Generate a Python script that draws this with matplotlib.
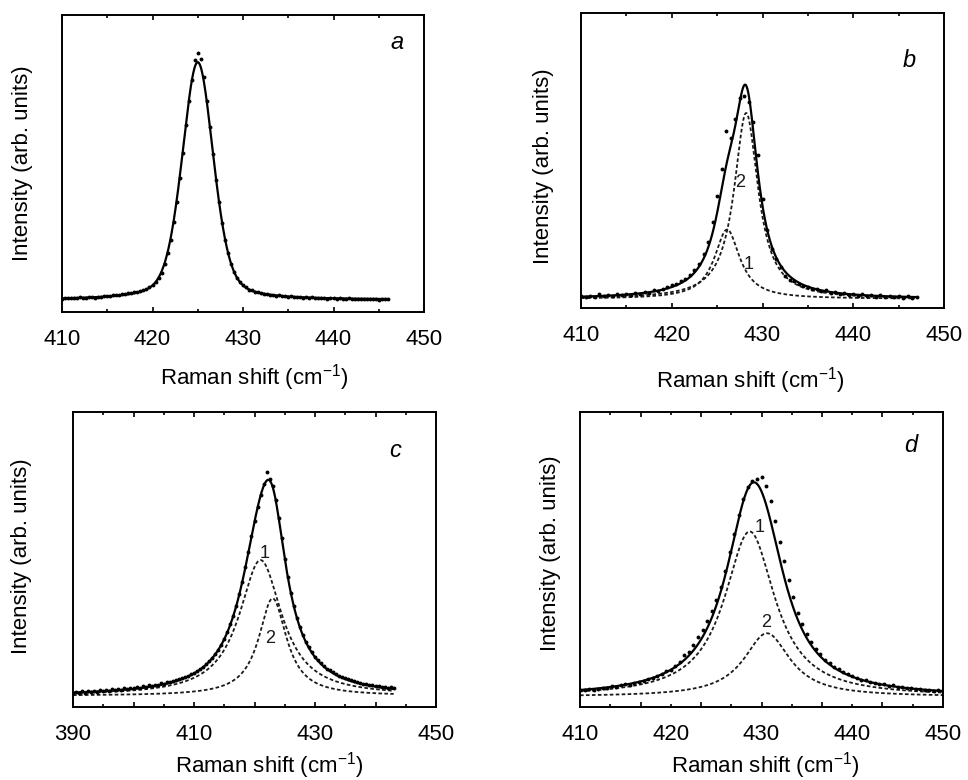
import numpy as np
import matplotlib
matplotlib.use('Agg')
import matplotlib.pyplot as plt
from matplotlib.ticker import MultipleLocator, FixedLocator, FixedFormatter, NullFormatter

plt.rcParams['font.family'] = ['Liberation Sans', 'DejaVu Sans']
plt.rcParams['mathtext.fontset'] = 'custom'
plt.rcParams['mathtext.rm'] = 'Liberation Sans'
plt.rcParams['mathtext.it'] = 'Liberation Sans:italic'
plt.rcParams['mathtext.default'] = 'regular'

# ---------------- data (arbitrary units 0..1) ----------------
# panel a: measured points, x = 410 + k/3
a_x0, a_step = 410.0, 1.0 / 3.0
a_y = [0.045, 0.047, 0.046, 0.048, 0.046, 0.047, 0.049, 0.047, 0.048, 0.050,
       0.049, 0.048, 0.051, 0.050, 0.053, 0.054, 0.055, 0.056, 0.058, 0.058,
       0.060, 0.061, 0.063, 0.064, 0.066, 0.068, 0.071, 0.074, 0.078, 0.084,
       0.091, 0.100, 0.113, 0.131, 0.160, 0.198, 0.244, 0.303, 0.372, 0.451,
       0.537, 0.628, 0.712, 0.782, 0.850, 0.872,
       0.851, 0.790, 0.712, 0.622, 0.531, 0.446, 0.369, 0.300, 0.243, 0.198,
       0.162, 0.134, 0.115, 0.100, 0.090, 0.083, 0.075, 0.073, 0.067, 0.066,
       0.064, 0.060, 0.061, 0.057, 0.058, 0.055, 0.056, 0.053, 0.054, 0.051,
       0.053, 0.050, 0.049, 0.051, 0.048, 0.050, 0.047, 0.049, 0.048, 0.046,
       0.048, 0.047, 0.045, 0.047, 0.046, 0.044, 0.046, 0.045, 0.044, 0.046,
       0.044, 0.045, 0.043, 0.045, 0.044, 0.043, 0.045, 0.043, 0.044, 0.042,
       0.044, 0.043, 0.044]
# fit (pseudo-Voigt): baseline, centre, height, half width, Lorentz fraction
a_base = 0.041
a_cent = [425.0]
a_height = [0.80]
a_hwhm = [2.05]
a_eta = [0.35]
a_fit_range = [410.0, 446.0]

# panel b
b_x0, b_step = 410.0, 0.5
b_y = [0.040, 0.036, 0.042, 0.038, 0.047, 0.039, 0.044, 0.040, 0.046, 0.043,
       0.048, 0.045, 0.051, 0.048, 0.055, 0.052, 0.060, 0.057, 0.066, 0.070,
       0.078, 0.080, 0.090, 0.098, 0.112, 0.128, 0.148, 0.182, 0.225, 0.290,
       0.380, 0.470, 0.600, 0.575, 0.640, 0.712, 0.718, 0.700, 0.630, 0.520,
       0.370, 0.265, 0.200, 0.165, 0.140, 0.110, 0.096, 0.090, 0.082, 0.074,
       0.070, 0.064, 0.066, 0.056, 0.060, 0.050, 0.055, 0.047, 0.052, 0.044,
       0.049, 0.041, 0.046, 0.040, 0.045, 0.038, 0.043, 0.037, 0.041, 0.036,
       0.040, 0.035, 0.039, 0.035, 0.036]
b_base = 0.031
b_cent = [426.1, 428.2]
b_height = [0.235, 0.63]
b_hwhm = [1.7, 1.6]
b_eta = [1.0, 1.0]
b_fit_range = [410.0, 446.8]

# panel c
c_x0, c_step = 390.0, 0.5
c_y = [0.046, 0.052, 0.048, 0.053, 0.049, 0.054, 0.050, 0.055, 0.051, 0.057,
       0.053, 0.058, 0.055, 0.060, 0.057, 0.062, 0.059, 0.064, 0.062, 0.066,
       0.064, 0.068, 0.066, 0.070, 0.069, 0.073, 0.072, 0.076, 0.075, 0.080,
       0.079, 0.084, 0.084, 0.089, 0.090, 0.095, 0.097, 0.102, 0.106, 0.111,
       0.116, 0.122, 0.129, 0.137, 0.145, 0.155, 0.166, 0.179, 0.194, 0.211,
       0.231, 0.253, 0.280, 0.309, 0.343, 0.383, 0.425, 0.473, 0.524, 0.578,
       0.629, 0.678, 0.720, 0.755, 0.795, 0.772, 0.748, 0.703, 0.641, 0.572,
       0.503, 0.442, 0.388, 0.342, 0.303, 0.271, 0.244, 0.221, 0.202, 0.185,
       0.171, 0.159, 0.148, 0.139, 0.130, 0.124, 0.117, 0.111, 0.106, 0.102,
       0.097, 0.095, 0.090, 0.088, 0.084, 0.083, 0.079, 0.079, 0.075, 0.075,
       0.071, 0.072, 0.068, 0.069, 0.066, 0.067, 0.064]
c_base = 0.038
c_cent = [421.0, 423.0]
c_height = [0.46, 0.33]
c_hwhm = [4.3, 2.8]
c_eta = [1.0, 1.0]
c_fit_range = [390.0, 443.0]

# panel d
d_x0, d_step = 410.0, 0.5
d_y = [0.058, 0.056, 0.060, 0.059, 0.062, 0.066, 0.065, 0.070, 0.069, 0.074,
       0.077, 0.076, 0.083, 0.085, 0.088, 0.094, 0.097, 0.106, 0.111, 0.121,
       0.127, 0.139, 0.152, 0.175, 0.186, 0.210, 0.238, 0.260, 0.292, 0.325,
       0.362, 0.407, 0.462, 0.524, 0.588, 0.650, 0.706, 0.745, 0.765, 0.772,
       0.780, 0.748, 0.698, 0.630, 0.560, 0.495, 0.432, 0.372, 0.320, 0.280,
       0.246, 0.220, 0.196, 0.178, 0.161, 0.149, 0.136, 0.128, 0.117, 0.112,
       0.104, 0.100, 0.093, 0.091, 0.085, 0.083, 0.078, 0.077, 0.072, 0.073,
       0.067, 0.068, 0.063, 0.065, 0.060, 0.062, 0.057, 0.059, 0.055, 0.057,
       0.053]
d_base = 0.035
d_cent = [428.7, 430.6]
d_height = [0.56, 0.215]
d_hwhm = [3.4, 3.1]
d_eta = [1.0, 1.0]
d_fit_range = [410.0, 450.0]

panel_letters = ['a', 'b', 'c', 'd']
xlims = [(410, 450), (410, 450), (390, 450), (410, 450)]
xtick_labels_a = ['410', '420', '430', '440', '450']
xtick_labels_c = ['390', '', '410', '', '430', '', '450']
d_label_pos = [410, 420, 430, 440, 450]
d_major = [416.667, 423.333, 430.0, 436.667, 443.333]
d_minor = [413.333, 420.0, 426.667, 433.333, 440.0, 446.667]
comp_labels = {
    'b': [('2', 427.5, 0.426), ('1', 428.5, 0.147)],
    'c': [('1', 421.6, 0.520), ('2', 422.6, 0.232)],
    'd': [('1', 429.8, 0.608), ('2', 430.5, 0.288)],
}


def pv(x, c, h, w, eta):
    u2 = ((x - c) / w) ** 2
    return h * (eta / (1.0 + u2) + (1.0 - eta) * np.exp(-np.log(2.0) * u2))


fig = plt.figure(figsize=(9.68, 7.80), dpi=100)
rects = [
    (62 / 968, 1 - 312 / 780, 362 / 968, 297 / 780),
    (581 / 968, 1 - 308 / 780, 363 / 968, 295 / 780),
    (73 / 968, 1 - 707 / 780, 363 / 968, 295 / 780),
    (580 / 968, 1 - 707 / 780, 363 / 968, 295 / 780),
]
letter_pos = [(0.925, 0.906), (0.904, 0.840), (0.887, 0.871), (0.912, 0.888)]
ylabel_x = [-0.080, -0.074, -0.113, -0.052]
ylabel_y = [0.50, 0.48, 0.51, 0.52]
xlabel_y = [-0.168, -0.193, -0.146, -0.146]
xlabel_x = [0.53, 0.465, 0.54, 0.51]

panels = [
    (a_x0, a_step, a_y, a_base, a_cent, a_height, a_hwhm, a_eta, a_fit_range),
    (b_x0, b_step, b_y, b_base, b_cent, b_height, b_hwhm, b_eta, b_fit_range),
    (c_x0, c_step, c_y, c_base, c_cent, c_height, c_hwhm, c_eta, c_fit_range),
    (d_x0, d_step, d_y, d_base, d_cent, d_height, d_hwhm, d_eta, d_fit_range),
]

FS = 16
PAD = 12
for i, (x0, step, ys, base, cents, hts, ws, etas, frange) in enumerate(panels):
    ax = fig.add_axes(rects[i])
    ys = np.asarray(ys)
    xs = x0 + step * np.arange(len(ys))
    xf = np.linspace(frange[0], frange[1], 800)
    comps = [pv(xf, c, h, w, e) for c, h, w, e in zip(cents, hts, ws, etas)]
    total = base + np.sum(comps, axis=0)
    if len(comps) > 1:
        for comp in comps:
            ax.plot(xf, base + comp, color='#1a1a1a', lw=1.3, ls=(0, (2.0, 1.3)))
    ax.plot(xs, ys, 'o', color='black', ms=2.8, mew=0)
    ax.plot(xf, total, color='black', lw=1.6)

    ax.set_xlim(*xlims[i])
    ax.set_ylim(0, 1)
    ax.set_yticks([])
    for sp in ax.spines.values():
        sp.set_linewidth(1.4)

    if i in (0, 1):
        ax.xaxis.set_major_locator(FixedLocator([410, 420, 430, 440, 450]))
        ax.xaxis.set_major_formatter(FixedFormatter(xtick_labels_a))
        ax.xaxis.set_minor_locator(MultipleLocator(5))
    elif i == 2:
        ax.xaxis.set_major_locator(FixedLocator([390, 400, 410, 420, 430, 440, 450]))
        ax.xaxis.set_major_formatter(FixedFormatter(xtick_labels_c))
        ax.xaxis.set_minor_locator(MultipleLocator(5))
    else:
        ax.xaxis.set_major_locator(FixedLocator(d_major))
        ax.xaxis.set_major_formatter(NullFormatter())
        ax.xaxis.set_minor_locator(FixedLocator(d_minor))
        for v in d_label_pos:
            ax.annotate(str(v), xy=(v, 0), xycoords=ax.get_xaxis_transform(),
                        xytext=(0, -PAD), textcoords='offset points',
                        ha='center', va='top', fontsize=FS)
    ax.tick_params(axis='x', which='both', direction='in', top=True, bottom=True,
                   labelsize=FS, pad=PAD)
    ax.tick_params(axis='x', which='major', length=3.8, width=1.2)
    ax.tick_params(axis='x', which='minor', length=2.2, width=1.2)

    ax.set_xlabel('Raman shift (cm$^{-1}$)', fontsize=FS)
    ax.xaxis.set_label_coords(xlabel_x[i], xlabel_y[i])
    ax.set_ylabel('Intensity (arb. units)', fontsize=FS)
    ax.yaxis.set_label_coords(ylabel_x[i], ylabel_y[i])

    ax.text(letter_pos[i][0], letter_pos[i][1], panel_letters[i], transform=ax.transAxes,
            ha='center', va='center', fontsize=FS + 1, style='italic')
    for lab, lx, ly in comp_labels.get(panel_letters[i], []):
        ax.text(lx, ly, lab, ha='center', va='center', fontsize=13, color='#1a1a1a')

fig.savefig('out.png', dpi=100)
